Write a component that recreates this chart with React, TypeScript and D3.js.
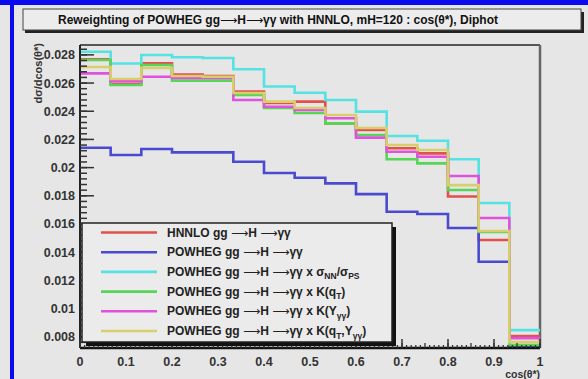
import React from 'react';
import * as d3 from 'd3';

// 15 bins in cos(theta*) from 0 to 1
const nBins = 15;

const hnnlo = [0.02769, 0.02593, 0.0274, 0.0266, 0.0265, 0.02539, 0.02458, 0.02468, 0.02314, 0.02267, 0.02137, 0.02101, 0.01795, 0.01486, 0.00804];
const powheg = [0.02141, 0.02089, 0.02132, 0.02108, 0.02108, 0.02042, 0.01962, 0.01928, 0.01888, 0.01812, 0.01687, 0.01671, 0.01571, 0.01332, 0.00727];
const powhegSigma = [0.02822, 0.02739, 0.02799, 0.02783, 0.02778, 0.02698, 0.02575, 0.02531, 0.0248, 0.02397, 0.02224, 0.02191, 0.02059, 0.01749, 0.00847];
const powhegQt = [0.02764, 0.02586, 0.02728, 0.02617, 0.02617, 0.02515, 0.02423, 0.02387, 0.02314, 0.02231, 0.02059, 0.0203, 0.01841, 0.01543, 0.00741];
const powhegY = [0.02669, 0.02614, 0.02645, 0.02636, 0.02636, 0.0248, 0.02432, 0.02409, 0.0235, 0.02213, 0.02113, 0.02077, 0.0194, 0.01642, 0.0079];
const powhegQtY = [0.02714, 0.02629, 0.02707, 0.0265, 0.02645, 0.02529, 0.02468, 0.02423, 0.02373, 0.02281, 0.0216, 0.02125, 0.01876, 0.0155, 0.00762];

const yTicks = [0.008, 0.01, 0.012, 0.014, 0.016, 0.018, 0.02, 0.022, 0.024, 0.026, 0.028];
const yTickLabels = ['0.008', '0.01', '0.012', '0.014', '0.016', '0.018', '0.02', '0.022', '0.024', '0.026', '0.028'];
const xTicks = [0, 0.1, 0.2, 0.3, 0.4, 0.5, 0.6, 0.7, 0.8, 0.9, 1];
const xTickLabels = ['0', '0.1', '0.2', '0.3', '0.4', '0.5', '0.6', '0.7', '0.8', '0.9', '1'];

const series = [
  { values: hnnlo, color: '#e2504c', label: 'HNNLO', extra: null },
  { values: powheg, color: '#4a4ad0', label: 'POWHEG', extra: null },
  { values: powhegSigma, color: '#55e2e2', label: 'POWHEG', extra: 'sigma' },
  { values: powhegQt, color: '#58d458', label: 'POWHEG', extra: 'qt' },
  { values: powhegY, color: '#e052dc', label: 'POWHEG', extra: 'y' },
  { values: powhegQtY, color: '#d8ce6c', label: 'POWHEG', extra: 'qty' },
];

const W = 588;
const H = 379;
const left = 80, right = 540, top = 45, bottom = 348;

const x = d3.scaleLinear().domain([0, 1]).range([left, right]);
const y = d3.scaleLinear().domain([0.0072, 0.0287]).range([bottom, top]);

const stepLine = d3
  .line<[number, number]>()
  .x(d => x(d[0]))
  .y(d => y(d[1]))
  .curve(d3.curveStepAfter);

function histPath(vals: number[]) {
  const pts: [number, number][] = vals.map((v, i) => [i / nBins, v]);
  pts.push([1, vals[vals.length - 1]]);
  return stepLine(pts) || '';
}

const font = '"Liberation Sans", Arial, sans-serif';
const arrowFont = '"DejaVu Sans", sans-serif';

// gg -> H -> gamma gamma, with wide arrows like ROOT's #rightarrow
function Process({ spaced }: { spaced?: boolean }) {
  const sp = spaced ? ' ' : '';
  return (
    <>
      <tspan> gg{sp}</tspan>
      <tspan fontFamily={arrowFont} fontWeight="normal">⟶</tspan>
      <tspan>H{sp}</tspan>
      <tspan fontFamily={arrowFont} fontWeight="normal">⟶</tspan>
      <tspan>γγ</tspan>
    </>
  );
}

function LegendText({ extra }: { extra: string | null }) {
  const fs = 8.5;
  const dy = 3.5;
  if (extra === 'sigma')
    return (
      <>
        <tspan> x σ</tspan>
        <tspan fontSize={fs} dy={dy}>NN</tspan>
        <tspan dy={-dy}>/σ</tspan>
        <tspan fontSize={fs} dy={dy}>PS</tspan>
      </>
    );
  if (extra === 'qt')
    return (
      <>
        <tspan> x K(q</tspan>
        <tspan fontSize={fs} dy={dy}>T</tspan>
        <tspan dy={-dy}>)</tspan>
      </>
    );
  if (extra === 'y')
    return (
      <>
        <tspan> x K(Y</tspan>
        <tspan fontSize={fs} dy={dy}>γγ</tspan>
        <tspan dy={-dy}>)</tspan>
      </>
    );
  if (extra === 'qty')
    return (
      <>
        <tspan> x K(q</tspan>
        <tspan fontSize={fs} dy={dy}>T</tspan>
        <tspan dy={-dy}>,Y</tspan>
        <tspan fontSize={fs} dy={dy}>γγ</tspan>
        <tspan dy={-dy}>)</tspan>
      </>
    );
  return null;
}

export default function App() {
  const yMinor = d3.range(-2, 53).map(i => 0.008 + i * 0.0004).filter(v => v >= 0.0072 && v <= 0.0287);
  const xMinor = d3.range(0, 101).map(i => i / 100);

  const legX = 82, legY = 223, legW = 310, legH = 119;
  const rowH = 19.7;

  return (
    <svg width={W} height={H} style={{ position: 'absolute', left: 0, top: 0, display: 'block' }} fontFamily={font}>
      <rect x={0} y={0} width={W} height={H} fill="#e6e6e6" />
      {/* blue window border */}
      <rect x={0} y={0} width={W} height={5} fill="#0a0af0" />
      <rect x={10} y={0} width={4} height={H} fill="#0a0af0" />

      {/* title box */}
      <rect x={25} y={12} width={559} height={21} fill="#222" />
      <rect x={23} y={9} width={558} height={21} fill="#ececec" stroke="#444" strokeWidth={1} />
      <text x={278} y={24} textAnchor="middle" fontSize={12} fontWeight="bold" fill="#111">
        Reweighting of POWHEG
        <Process />
        {' '}with HNNLO, mH=120 : cos(θ*), Diphot
      </text>

      {/* frame */}
      <line x1={left} x2={right} y1={top} y2={top} stroke="#555" strokeWidth={2} />
      <line x1={right} x2={right} y1={top} y2={bottom} stroke="#666" strokeWidth={2.5} />

      {/* histograms */}
      {series.map((s, i) => (
        <path key={i} d={histPath(s.values)} fill="none" stroke={s.color} strokeWidth={2.6} />
      ))}

      {/* y axis */}
      <line x1={left} x2={left} y1={top} y2={bottom} stroke="#222" strokeWidth={2} />
      {yMinor.map((v, i) => (
        <line key={'ym' + i} x1={left} x2={left + 7} y1={y(v)} y2={y(v)} stroke="#333" strokeWidth={1.5} />
      ))}
      {yTicks.map((v, i) => (
        <g key={'yt' + i}>
          <line x1={left} x2={left + 14} y1={y(v)} y2={y(v)} stroke="#333" strokeWidth={1.5} />
          <text x={left - 5} y={y(v) + 4.5} textAnchor="end" fontSize={12.5} fontWeight="bold" fill="#333">
            {yTickLabels[i]}
          </text>
        </g>
      ))}
      <text transform={`translate(42,${top - 2}) rotate(-90)`} textAnchor="end" fontSize={11} fontWeight="bold" fill="#333">
        dσ/dcos(θ*)
      </text>

      {/* x axis */}
      <line x1={left} x2={right} y1={bottom} y2={bottom} stroke="#111" strokeWidth={2.5} />
      {xMinor.map((v, i) => (
        <line key={'xm' + i} x1={x(v)} x2={x(v)} y1={bottom} y2={bottom - (i % 5 === 0 ? 5 : 3)} stroke="#333" strokeWidth={1.3} />
      ))}
      {xTicks.map((v, i) => (
        <g key={'xt' + i}>
          <line x1={x(v)} x2={x(v)} y1={bottom} y2={bottom - 9} stroke="#333" strokeWidth={1.5} />
          <text x={x(v)} y={bottom + 18} textAnchor="middle" fontSize={12.5} fontWeight="bold" fill="#333">
            {xTickLabels[i]}
          </text>
        </g>
      ))}
      <text x={right} y={H - 1} textAnchor="end" fontSize={10.5} fontWeight="bold" fill="#333">
        cos(θ*)
      </text>

      {/* legend */}
      <rect x={legX + 4} y={legY + 4} width={legW} height={legH} fill="#111" />
      <rect x={legX} y={legY} width={legW} height={legH} fill="#ebebeb" stroke="#222" strokeWidth={1.5} />
      {series.map((s, i) => {
        const ly = legY + 9.5 + i * rowH;
        return (
          <g key={'lg' + i}>
            <line x1={101} x2={157} y1={ly} y2={ly} stroke={s.color} strokeWidth={2.6} />
            <text x={167} y={ly + 4} fontSize={12} fontWeight="bold" fill="#222">
              <tspan>{s.label}</tspan>
              <Process spaced />
              <LegendText extra={s.extra} />
            </text>
          </g>
        );
      })}
    </svg>
  );
}
